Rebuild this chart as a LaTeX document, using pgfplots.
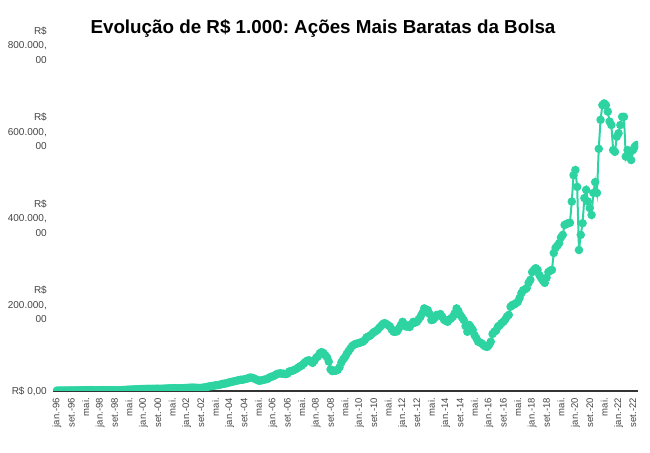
\documentclass[border=0pt]{standalone}
\usepackage{fontspec}
\setmainfont{Liberation Sans}
\usepackage{pgfplots}
\usepackage{pgfplotstable}
\pgfplotsset{compat=1.18}
\frenchspacing

\definecolor{linegreen}{HTML}{2DD4A2}
\definecolor{labelgray}{HTML}{444444}
\definecolor{axisgray}{HTML}{333333}

% valor mensal da carteira, jan/1996 ... nov/2022
\pgfplotstableread[row sep=\\]{
v\\
1000\\1040\\1080\\1120\\1150\\1180\\1200\\1230\\1260\\1300\\1350\\1400\\
1480\\1560\\1650\\1750\\1850\\1950\\2050\\2000\\1950\\1750\\1700\\1750\\
1850\\1900\\1950\\2000\\1950\\1850\\1800\\1600\\1450\\1550\\1650\\1750\\
2000\\2300\\2600\\2900\\3100\\3300\\3500\\3600\\3800\\4000\\4200\\4400\\
4600\\4800\\4900\\5000\\4900\\5000\\5100\\5200\\5200\\5100\\5200\\5400\\
5600\\5800\\5900\\6100\\6300\\6500\\6400\\6300\\6100\\6300\\6600\\6800\\
7000\\7300\\7600\\7800\\7700\\7500\\7200\\7000\\7100\\7600\\8300\\9000\\
10000\\11000\\11500\\12000\\13000\\13500\\14000\\15000\\16500\\17000\\17500\\19000\\
20000\\21000\\22000\\23000\\24000\\25000\\26000\\26000\\27000\\28000\\29000\\31000\\
31000\\30000\\28000\\26000\\24000\\24000\\25000\\26000\\27000\\28000\\31000\\33000\\
34000\\36000\\39000\\40000\\41000\\40000\\40000\\39000\\40000\\45000\\46000\\47000\\
49000\\51000\\54000\\57000\\59000\\63000\\67000\\70000\\71000\\68000\\65000\\70000\\
77000\\80000\\87000\\90000\\88000\\83000\\78000\\68000\\50000\\46000\\47000\\47000\\
49000\\55000\\66000\\73000\\78000\\86000\\92000\\98000\\104000\\107000\\109000\\110000\\
111000\\113000\\114000\\118000\\124000\\126000\\128000\\132000\\136000\\138000\\141000\\146000\\
150000\\155000\\157000\\155000\\152000\\149000\\142000\\137000\\137000\\138000\\145000\\152000\\
160000\\155000\\149000\\149000\\148000\\155000\\160000\\158000\\160000\\166000\\172000\\180000\\
191000\\189000\\187000\\178000\\164000\\165000\\170000\\176000\\175000\\178000\\172000\\165000\\
162000\\160000\\165000\\168000\\172000\\180000\\191000\\185000\\176000\\170000\\164000\\150000\\
137000\\153000\\147000\\141000\\129000\\122000\\114000\\112000\\110000\\106000\\103000\\102000\\
106000\\114000\\132000\\137000\\140000\\149000\\152000\\157000\\160000\\165000\\172000\\176000\\
195000\\199000\\200000\\203000\\206000\\215000\\226000\\233000\\235000\\238000\\250000\\257000\\
275000\\280000\\284000\\280000\\268000\\261000\\255000\\250000\\262000\\275000\\278000\\280000\\
319000\\331000\\336000\\342000\\355000\\361000\\384000\\386000\\388000\\389000\\438000\\499000\\
511000\\472000\\326000\\361000\\388000\\446000\\465000\\438000\\423000\\407000\\458000\\483000\\
458000\\560000\\627000\\661000\\665000\\661000\\646000\\623000\\615000\\557000\\553000\\588000\\
596000\\615000\\634000\\634000\\542000\\557000\\548000\\534000\\557000\\565000\\569000\\
}\carteira

\begin{document}
\begin{tikzpicture}
\useasboundingbox (0,0) rectangle (650bp,453bp);

\node[font=\bfseries\fontsize{18.8bp}{22bp}\selectfont, text=black] at (323bp,425bp)
  {Evolução de R\$ 1.000: Ações Mais Baratas da Bolsa};

\begin{axis}[
  at={(53bp,62bp)}, anchor=south west,
  scale only axis,
  width=585bp, height=346bp,
  xmin=-2.2, xmax=322.8,
  ymin=0, ymax=800000,
  axis x line=bottom, axis y line=left,
  x axis line style={draw=axisgray, line width=1.3bp, -},
  y axis line style={draw=none},
  tick style={draw=none},
  major tick length=0pt,
  scaled y ticks=false,
  clip marker paths=true,
  xtick={0,8,...,320},
  xticklabels={jan.-96,set.-96,mai.,jan.-98,set.-98,mai.,jan.-00,set.-00,mai.,
    jan.-02,set.-02,mai.,jan.-04,set.-04,mai.,jan.-06,set.-06,mai.,
    jan.-08,set.-08,mai.,jan.-10,set.-10,mai.,jan.-12,set.-12,mai.,
    jan.-14,set.-14,mai.,jan.-16,set.-16,mai.,jan.-18,set.-18,mai.,
    jan.-20,set.-20,mai.,jan.-22,set.-22},
  xticklabel style={inner sep=0pt, yshift=-7bp, rotate=90, anchor=east,
    font=\fontsize{9.5bp}{11bp}\selectfont, text=labelgray},
  ytick={0,200000,400000,600000,800000},
  yticklabels={{R\$ 0,00},{R\$\\200.000,\\00},{R\$\\400.000,\\00},
    {R\$\\600.000,\\00},{R\$\\800.000,\\00}},
  yticklabel style={inner sep=0pt, xshift=-6bp, anchor=east, align=right,
    font=\fontsize{10bp}{14.5bp}\selectfont, text=labelgray},
]
\addplot[color=linegreen, line width=2bp, mark=*, mark size=3.2bp,
  mark options={fill=linegreen, draw=linegreen}]
  table[x expr=\coordindex, y=v] {\carteira};
\end{axis}
\end{tikzpicture}
\end{document}
